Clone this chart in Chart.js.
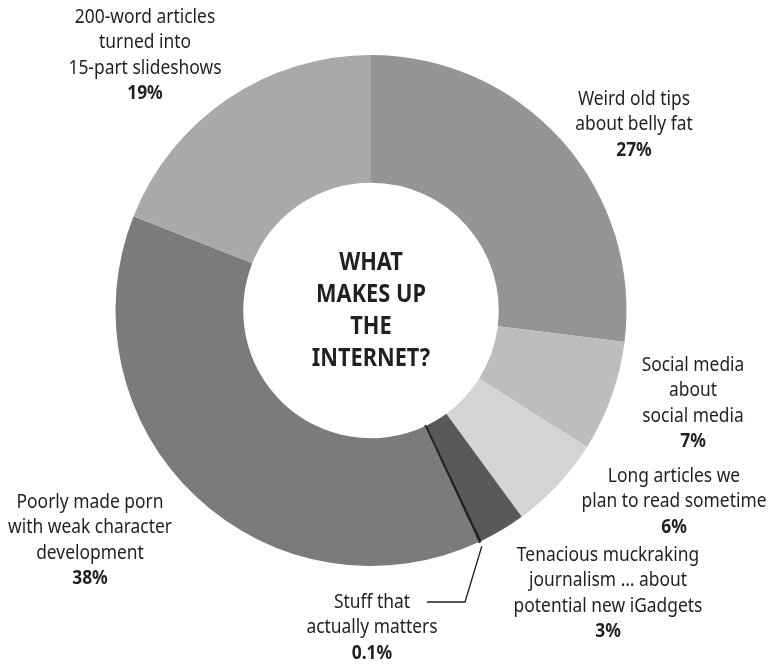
<!DOCTYPE html>
<html>
<head>
<meta charset="utf-8">
<title>What makes up the internet?</title>
<script src="https://cdn.jsdelivr.net/npm/chart.js@4/dist/chart.umd.min.js"></script>
<style>
  html, body { margin: 0; padding: 0; background: #fff; }
  canvas { display: block; }
</style>
</head>
<body>
<canvas id="chartInternet" width="771" height="664"></canvas>
<script>
// --- Datos ---
const categories = [
  'Weird old tips about belly fat',
  'Social media about social media',
  'Long articles we plan to read sometime',
  'Tenacious muckraking journalism … about potential new iGadgets',
  'Stuff that actually matters',
  'Poorly made porn with weak character development',
  '200-word articles turned into 15-part slideshows'
];
const shares = [27, 7, 6, 3, 0.1, 38, 19];
const labelLines = [
  ['Weird old tips', 'about belly fat'],
  ['Social media', 'about', 'social media'],
  ['Long articles we', 'plan to read sometime'],
  ['Tenacious muckraking', 'journalism … about', 'potential new iGadgets'],
  ['Stuff that', 'actually matters'],
  ['Poorly made porn', 'with weak character', 'development'],
  ['200-word articles', 'turned into', '15-part slideshows']
];
const centerTitle = ['WHAT', 'MAKES UP', 'THE', 'INTERNET?'];

// --- Estilo ---
const sliceColors = ['#959597', '#bcbdbf', '#d3d4d5', '#58595b', '#231f20', '#7a7b7d', '#a8a9ab'];
const INK = '#231f20';
const FONT = '"Noto Sans", "Open Sans", sans-serif';
const SQUEEZE = 0.87;     // texto algo condensado
const LINE_H = 25.5;

// posición de cada etiqueta: centro x, y de la primera línea
const labelPos = [
  { x: 634, y: 99 },
  { x: 693, y: 365 },
  { x: 674, y: 476 },
  { x: 608, y: 555 },
  { x: 372, y: 602 },
  { x: 90,  y: 502 },
  { x: 145, y: 17 }
];
// codo y final de la línea guía del 0.1%
const leader = { idx: 4, elbow: { x: 465, y: 602 }, end: { x: 427, y: 602 } };

function squeezedText(ctx, text, x, y) {
  ctx.save();
  ctx.translate(x, y);
  ctx.scale(SQUEEZE, 1);
  ctx.fillText(text, 0, 0);
  ctx.restore();
}

const labelsPlugin = {
  id: 'internetLabels',
  afterDraw(chart) {
    const ctx = chart.ctx;
    const arc = chart.getDatasetMeta(0).data[0];
    ctx.save();
    ctx.fillStyle = INK;
    ctx.textAlign = 'center';
    ctx.textBaseline = 'middle';

    // título en el hueco
    ctx.font = `bold 25px ${FONT}`;
    const n = centerTitle.length;
    centerTitle.forEach((t, i) => {
      squeezedText(ctx, t, arc.x, arc.y + (i - (n - 1) / 2) * 32);
    });

    // etiquetas + porcentaje
    labelLines.forEach((lines, i) => {
      const p = labelPos[i];
      ctx.font = `20px ${FONT}`;
      lines.forEach((t, j) => squeezedText(ctx, t, p.x, p.y + j * LINE_H));
      ctx.font = `bold 20px ${FONT}`;
      squeezedText(ctx, `${shares[i]}%`, p.x, p.y + lines.length * LINE_H);
    });

    // línea guía para la tajada mínima
    const el = chart.getDatasetMeta(0).data[leader.idx];
    const mid = (el.startAngle + el.endAngle) / 2;
    const r0 = el.outerRadius + 5;
    ctx.strokeStyle = INK;
    ctx.lineWidth = 1.3;
    ctx.beginPath();
    ctx.moveTo(el.x + Math.cos(mid) * r0, el.y + Math.sin(mid) * r0);
    ctx.lineTo(leader.elbow.x, leader.elbow.y);
    ctx.lineTo(leader.end.x, leader.end.y);
    ctx.stroke();
    ctx.restore();
  }
};

new Chart(document.getElementById('chartInternet'), {
  type: 'doughnut',
  data: {
    labels: categories,
    datasets: [{
      data: shares,
      backgroundColor: sliceColors,
      borderColor: sliceColors,
      borderWidth: shares.map(v => v < 1 ? 2 : 0)
    }]
  },
  options: {
    responsive: false,
    animation: false,
    cutout: '50%',
    layout: { padding: { left: 114, right: 143, top: 54, bottom: 97 } },
    plugins: { legend: { display: false }, tooltip: { enabled: false } }
  },
  plugins: [labelsPlugin]
});
</script>
</body>
</html>
